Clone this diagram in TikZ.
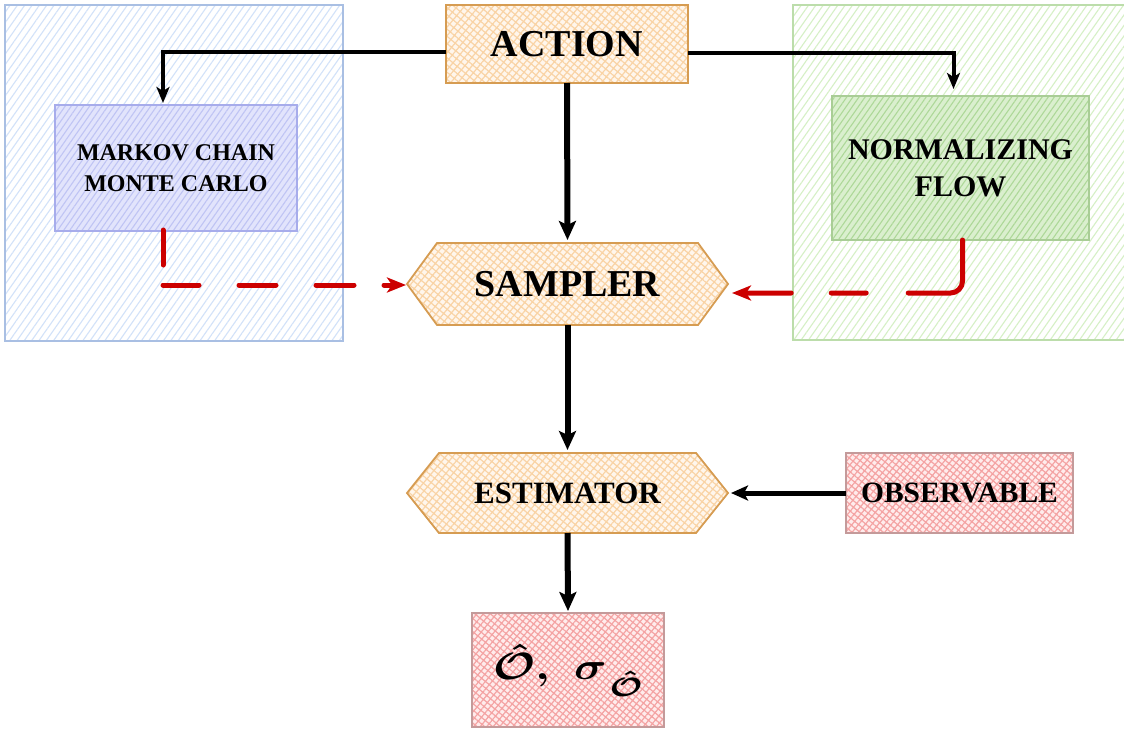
\documentclass[tikz,border=0pt]{standalone}
\usepackage{graphicx}
\usepackage{fontspec}
\setmainfont{Liberation Serif}
\usetikzlibrary{arrows.meta,patterns.meta,backgrounds,calc}
\definecolor{blueB}{HTML}{A9BFE3}
\definecolor{blueL}{HTML}{D2E2F9}
\definecolor{mcB}{HTML}{A7ACEB}
\definecolor{mcBase}{HTML}{E2E4FC}
\definecolor{mcL}{HTML}{BFC4F4}
\definecolor{greenB}{HTML}{BCDDAB}
\definecolor{greenL}{HTML}{D6F0C6}
\definecolor{nfB}{HTML}{A9CD96}
\definecolor{nfBase}{HTML}{DAEFCE}
\definecolor{nfL}{HTML}{ADD898}
\definecolor{orB}{HTML}{D69C52}
\definecolor{orBase}{HTML}{FFF6EC}
\definecolor{orL}{HTML}{F9D3A5}
\definecolor{rdB}{HTML}{C49A9A}
\definecolor{rdBase}{HTML}{FFECEC}
\definecolor{rdL}{HTML}{F4A3A3}
\definecolor{redD}{HTML}{CC0000}
\begin{document}
\begin{tikzpicture}[x=1pt,y=-1pt,
  pbox/.style={outer sep=0pt, inner sep=0pt, line width=1.8pt, align=center, font=\bfseries},
  blueouter/.style={pbox, draw=blueB, preaction={fill=white}, pattern={Lines[angle=55,distance=6pt,line width=1.1pt]}, pattern color=blueL},
  mcbox/.style={pbox, draw=mcB, preaction={fill=mcBase}, pattern={Lines[angle=55,distance=5pt,line width=1.1pt]}, pattern color=mcL},
  greenouter/.style={pbox, draw=greenB, preaction={fill=white}, pattern={Lines[angle=55,distance=6pt,line width=1.1pt]}, pattern color=greenL},
  nfbox/.style={pbox, draw=nfB, preaction={fill=nfBase}, pattern={Lines[angle=55,distance=5pt,line width=1.1pt]}, pattern color=nfL},
  orbox/.style={pbox, draw=orB, preaction={fill=orBase}, pattern={Hatch[angle=50,distance=5.5pt,line width=1.2pt]}, pattern color=orL},
  rdbox/.style={pbox, draw=rdB, preaction={fill=rdBase}, pattern={Hatch[angle=50,distance=5pt,line width=1.2pt]}, pattern color=rdL},
  hexanchor/.style={outer sep=0pt, inner sep=0pt, font=\bfseries},
  thinarr/.style={line width=4pt, -{Stealth[length=16pt,width=13pt,inset=4pt]}},
  thickarr/.style={line width=6pt, -{Stealth[length=19pt,width=17pt,inset=4pt]}},
  midarr/.style={line width=5pt, -{Stealth[length=17pt,width=15pt,inset=4pt]}},
  reddash/.style={draw=redD, line width=5pt, line cap=round, -{Stealth[length=19pt,width=15pt,inset=5pt]}}
]
\useasboundingbox (0,0) rectangle (1124,731);
\clip (0,0) rectangle (1124,731);
% big group boxes
\node[blueouter, minimum width=338, minimum height=336] (mcgroup) at (174,173) {};
\node[greenouter, minimum width=342, minimum height=335] (nfgroup) at (964,172.5) {};
% inner boxes
\node[mcbox, minimum width=242, minimum height=126, font=\bfseries\fontsize{24}{31}\selectfont] (mcmc) at (176,168) {MARKOV CHAIN\\MONTE CARLO};
\node[nfbox, minimum width=257, minimum height=144, font=\bfseries\fontsize{30}{37}\selectfont] (nf) at (960.5,168) {NORMALIZING\\FLOW};
\node[orbox, minimum width=242, minimum height=78, font=\bfseries\fontsize{38}{44}\selectfont] (action) at (567,44) {ACTION};
% hexagons
\node[hexanchor, minimum width=321, minimum height=82, font=\bfseries\fontsize{38}{44}\selectfont] (sampler) at (567.5,284) {SAMPLER};
\node[hexanchor, minimum width=321, minimum height=80, font=\bfseries\fontsize{31}{37}\selectfont] (estimator) at (567.5,493) {ESTIMATOR};
\begin{scope}[on background layer]
\path[orbox] (sampler.west) -- ($(sampler.north west)+(30,0)$) -- ($(sampler.north east)+(-30,0)$) -- (sampler.east) -- ($(sampler.south east)+(-30,0)$) -- ($(sampler.south west)+(30,0)$) -- cycle;
\path[orbox] (estimator.west) -- ($(estimator.north west)+(32,0)$) -- ($(estimator.north east)+(-32,0)$) -- (estimator.east) -- ($(estimator.south east)+(-32,0)$) -- ($(estimator.south west)+(32,0)$) -- cycle;
\end{scope}
\node[rdbox, minimum width=192, minimum height=114] (obox) at (568,670) {\scalebox{4.5}[3.8]{\boldmath$\hat{\mathcal{O}},\hspace{3.5pt}\sigma\mkern1mu\raisebox{-4.5pt}{$\scriptstyle\hat{\mathcal{O}}$}$}};
\node[rdbox, minimum width=227, minimum height=80, font=\bfseries\fontsize{29.5}{35}\selectfont] (obs) at (959.5,493) {OBSERVABLE};
% connectors
\draw[thinarr] ($(action.west)+(0,8)$) -| ($(mcmc.north)+(-13,-2)$);
\draw[thinarr] ($(action.east)+(0,9)$) -| ($(nf.north)+(-7,-7)$);
\draw[thickarr] (action.south) -- ($(sampler.north)+(0,-3)$);
\draw[thickarr] (sampler.south) -- ($(estimator.north)+(0,-3)$);
\draw[thickarr] (estimator.south) -- ($(obox.north)+(0,-2)$);
\draw[midarr] (obs.west) -- ($(estimator.east)+(3,0)$);
\draw[reddash, dash pattern=on 35pt off 20pt on 36pt off 40pt on 37pt off 40pt on 38pt off 30pt on 100pt] ($(mcmc.south)+(-13,-1)$) |- ($(sampler.west)+(-1,1)$);
\draw[reddash, rounded corners=12pt, dash pattern=on 102pt off 42pt on 35pt off 40pt on 80pt off 10pt] ($(nf.south)+(2,0)$) |- ($(sampler.east)+(4,9)$);
\end{tikzpicture}
\end{document}
